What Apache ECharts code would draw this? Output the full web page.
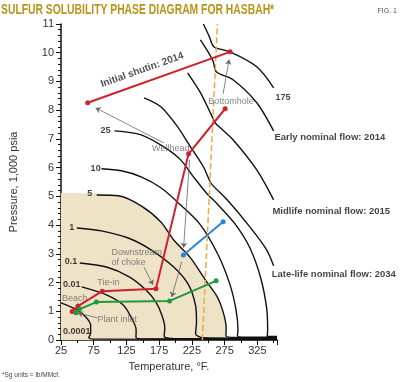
<!DOCTYPE html>
<html><head><meta charset="utf-8">
<script src="https://cdn.jsdelivr.net/npm/echarts@6/dist/echarts.min.js"></script>
<style>html,body{margin:0;padding:0;background:#fff}#c{width:400px;height:382px}</style>
</head><body><div id="c"></div>
<script>
// ---- data (temperature °F, pressure 1,000 psia) ----
const curve0001 = [[25,1.29],[49.2,1.05],[62.8,0.80],[70.3,0.52],[70.3,0.24],[67.5,0.08],[80,0.03],[355,0.02]];
const curve001 = [[56.7,1.85],[94.5,1.57],[120,1.22],[132,0.80],[139.8,0.35],[139.5,0.10],[152,0.04],[355,0.03]];
const curve01 = [[53.7,2.68],[94.5,2.54],[129.2,2.20],[154.9,1.74],[170,1.32],[179,0.87],[183.6,0.42],[182.5,0.13],[196,0.05],[355,0.04]];
const curve1 = [[49.2,3.90],[86.9,3.80],[127.7,3.55],[162.5,3.14],[197.2,2.54],[219.9,1.92],[230.4,1.22],[232,0.63],[230.6,0.22],[242,0.08],[355,0.06]];
const curve5 = [[79.4,5.05],[112.6,5.02],[147.4,4.67],[177.6,4.11],[197.2,3.48],[222.9,2.86],[245.5,2.09],[263.7,1.50],[272.7,0.98],[277.3,0.42],[277,0.15],[290,0.09],[355,0.08]];
const curve10 = [[86.9,5.96],[117.1,5.89],[147.4,5.68],[177.6,5.30],[207.8,4.70],[238,4.01],[265.2,2.96],[283.3,1.92],[292.4,1.05],[295.4,0.35],[294.5,0.14],[308,0.1],[355,0.1]];
const curve25 = [[106.6,7.28],[147.4,7.14],[182.1,6.72],[207.8,6.27],[227.4,5.68],[247.1,5.12],[265.2,4.70],[290.9,4.04],[313.5,3.21],[330.1,2.16],[339.2,1.11],[340.7,0.35],[340,0.12],[355,0.12]];
const curveLate = [[151.9,8.43],[177.6,8.12],[203.2,7.42],[222.9,6.72],[242.5,6.03],[251.6,5.57],[256.1,5.40],[278.8,4.88],[313.5,3.94],[339.2,3.14],[349.8,2.58]];
const curveMid = [[218.4,9.30],[238,8.61],[253.1,7.91],[260.7,7.56],[266.7,7.42],[287.8,6.97],[324.1,5.92],[349.8,4.88]];
const curveEarly = [[238,10.45],[248.6,10.07],[257.6,9.69],[262.2,9.34],[287.8,9.06],[324.1,8.26],[349.8,7.28]];
const curve175 = [[242.5,11.0],[251.6,10.56],[256.1,10.28],[260.7,10.17],[283.3,10.03],[324.1,9.51],[349.8,8.78]];
const shadedRegion = [[25,5.12],[79.4,5.10],[112.6,5.02],[147.4,4.67],[177.6,4.11],[197.2,3.48],[222.9,2.86],[245.5,2.09],[263.7,1.50],[272.7,0.98],[277.3,0.42],[277.5,0]];
const phaseBoundary = [[241,0],[264,11]];

const initialShutin = [[65.8,8.26],[283.3,10.03]];
const earlyFlow = [[42,0.99],[51,1.18],[88,1.70],[170,1.78],[219.9,6.48],[275.8,8.05]];
const midlifeFlow = [[212,2.96],[272.7,4.12]];
const lateFlow = [[48,0.95],[53,1.07],[79,1.32],[191,1.36],[262,2.06]];

const arrows = [
  [[182.1,6.86],[77.9,8.08]],
  [[221.4,6.27],[212.3,3.21]],
  [[209.3,2.72],[194.2,1.50]],
  [[272.7,8.57],[281.8,9.76]],
  [[151.9,2.54],[165.5,1.92]],
  [[80.9,0.77],[50.7,0.94]]
];
const curveLabels = [['0.0001',49.2,0.31],['0.01',41.6,1.92],['0.1',40.1,2.72],['1',41.6,3.90],['5',68.8,5.09],['10',77.9,5.96],['25',93,7.28],['175',364,8.43]];
const flowLabels = [['Early nominal flow: 2014',351,7.04],['Midlife nominal flow: 2015',348,4.49],['Late-life nominal flow: 2034',347,2.30]];
const noteLabels = [['Wellhead',192.7,6.66],['Bottomhole',284.8,8.29],['Tie-in',97.5,1.99],['Beach',46.1,1.46],['Plant inlet',111.1,0.73]];
const noteLeftLabels = [['Downstream\nof choke',102,2.86]];
const shutinLabel = ['Initial shutin: 2014',149,9.4];
const xTickStart = 25, xTickStep = 50, xMax = 355;
const yMax = 11, yStep = 1;

const FONT = '"Liberation Sans", Arial, sans-serif';
const chart = echarts.init(document.getElementById('c'), null, {renderer:'canvas'});

function curve(data){
  return {type:'line', data, smooth:0.3, symbol:'none', silent:true, z:3,
    lineStyle:{color:'#111', width:1.4}};
}
function flow(data, color){
  return {type:'line', data, symbol:'circle', symbolSize:5, silent:true, z:6,
    itemStyle:{color}, lineStyle:{color, width:2}};
}
function labels(items, style, extra){
  return {type:'scatter', symbolSize:0, silent:true, clip:false, z:8,
    data: items.map(d => ({value:[d[1],d[2]], label:Object.assign({show:true, formatter:d[0], position:'inside'}, style)})),
    ...(extra||{})};
}

const option = {
  animation:false,
  grid:{left:59, right:123, top:24, bottom:42, containLabel:false},
  xAxis:{type:'value', min:xTickStart, max:xMax, interval:xTickStep,
    name:'Temperature, °F.', nameLocation:'middle', nameGap:21,
    nameTextStyle:{fontFamily:FONT, fontSize:11, color:'#333'},
    axisLine:{show:true, lineStyle:{color:'#111', width:1.5}},
    axisTick:{show:true, length:5, lineStyle:{color:'#111'}},
    minorTick:{show:true, splitNumber:2, length:3, lineStyle:{color:'#111'}},
    splitLine:{show:false},
    axisLabel:{showMaxLabel:false, fontFamily:FONT, fontSize:11, color:'#333', margin:5}},
  yAxis:{type:'value', min:0, max:yMax, interval:yStep,
    name:'Pressure, 1,000 psia', nameLocation:'middle', nameGap:42,
    nameTextStyle:{fontFamily:FONT, fontSize:11, color:'#333'},
    axisLine:{show:true, lineStyle:{color:'#111', width:1.5}},
    axisTick:{show:true, length:5, lineStyle:{color:'#111'}},
    minorTick:{show:true, splitNumber:5, length:3, lineStyle:{color:'#111'}},
    splitLine:{show:false},
    axisLabel:{fontFamily:FONT, fontSize:11, color:'#333', margin:7}},
  graphic:[
    {type:'text', x:1, y:2, scaleX:0.69, style:{text:'SULFUR SOLUBILITY PHASE DIAGRAM FOR HASBAH*', font:'bold 15px '+FONT, fill:'#b9941a', verticalAlign:'top', textVerticalAlign:'top'}},
    {type:'text', right:3, top:8, style:{text:'FIG. 1', font:'7px '+FONT, fill:'#555'}},
    {type:'text', left:2, top:372, style:{text:'*Sg units = lb/MMcf.', font:'6.5px '+FONT, fill:'#444'}}
  ],
  series:[
    {type:'line', data:shadedRegion, smooth:0.3, symbol:'none', silent:true, z:1,
      lineStyle:{width:0}, areaStyle:{color:'#eee2c7', opacity:1}},
    curve(curve0001), curve(curve001), curve(curve01), curve(curve1), curve(curve5),
    curve(curve10), curve(curve25), curve(curveLate), curve(curveMid), curve(curveEarly), curve(curve175),
    {type:'line', data:phaseBoundary, symbol:'none', silent:true, z:4,
      lineStyle:{color:'#f5a440', width:1.5, type:[6,3]}},
    {type:'lines', coordinateSystem:'cartesian2d', silent:true, z:5,
      symbol:['none','arrow'], symbolSize:5,
      lineStyle:{color:'#666', width:0.8, opacity:1},
      data: arrows.map(c => ({coords:c}))},
    flow(initialShutin, '#d0202e'),
    flow(earlyFlow, '#d0202e'),
    flow(midlifeFlow, '#2a86d1'),
    flow(lateFlow, '#1f9a3e'),
    labels(curveLabels, {fontFamily:FONT, fontSize:9, fontWeight:'bold', color:'#111'}),
    labels(flowLabels, {fontFamily:FONT, fontSize:9.5, fontWeight:'bold', color:'#111', align:'left', position:'right', distance:0}),
    labels(noteLabels, {fontFamily:FONT, fontSize:9, color:'#666'}),
    labels(noteLeftLabels, {fontFamily:FONT, fontSize:9, color:'#666', align:'left', position:'right', distance:0, lineHeight:10}),
    labels([shutinLabel], {fontFamily:FONT, fontSize:10, fontWeight:'bold', color:'#222', rotate:19.5})
  ]
};
chart.setOption(option);
</script></body></html>
